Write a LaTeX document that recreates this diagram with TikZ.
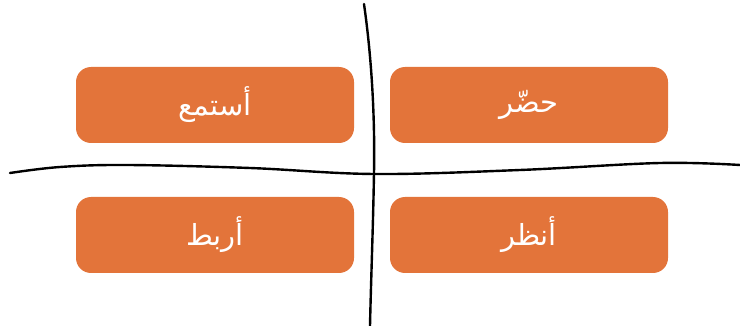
\documentclass[tikz,border=0pt]{standalone}
\usepackage{fontspec}
\TeXXeTstate=1
\newfontfamily\arabicfont[Script=Arabic]{DejaVu Sans}
\definecolor{boxorange}{HTML}{E3743A}
\begin{document}
\begin{tikzpicture}[x=1pt,y=-1pt,
  card/.style={fill=boxorange, draw=none, rounded corners=15pt, minimum width=278pt, minimum height=76pt, inner sep=0pt, text=white, font=\arabicfont\fontsize{29}{34}\selectfont},
  stroke/.style={line width=2.4pt, black, line cap=round}]
\useasboundingbox (0,0) rectangle (740,326);
\node[card] (tl) at (215,105) {\beginR أستمع\endR};
\node[card] (tr) at (529,105) {\beginR حضّر\endR};
\node[card] (bl) at (215,235) {\beginR أربط\endR};
\node[card] (br) at (529,235) {\beginR أنظر\endR};
\draw[stroke] (364,4) .. controls (372,60) and (375,120) .. (374,173) .. controls (373,230) and (371,280) .. (370,326);
\draw[stroke] plot[smooth, tension=0.6] coordinates {(10,173) (60,167) (127,165) (250,168) (375,174) (520,170) (660,163) (740,165)};
\end{tikzpicture}
\end{document}
